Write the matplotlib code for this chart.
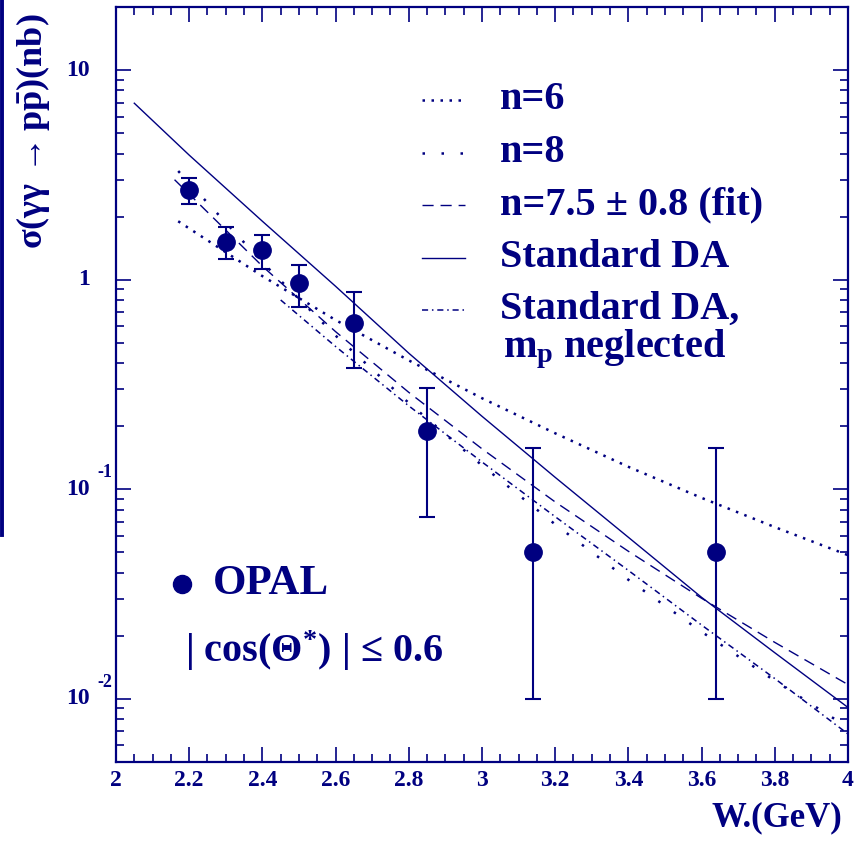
import matplotlib.pyplot as plt
from matplotlib.lines import Line2D
from matplotlib.ticker import MultipleLocator, LogLocator, FixedLocator, NullFormatter, FuncFormatter
from matplotlib.transforms import blended_transform_factory, offset_copy

navy = '#000080'

# OPAL measurement, |cos(theta*)| < 0.6
W_data = [2.2, 2.3, 2.4, 2.5, 2.65, 2.85, 3.14, 3.64]
sig_data = [2.67, 1.51, 1.38, 0.96, 0.62, 0.189, 0.050, 0.050]
sig_up = [3.06, 1.78, 1.63, 1.17, 0.87, 0.303, 0.158, 0.158]
sig_lo = [2.29, 1.25, 1.13, 0.74, 0.38, 0.074, 0.010, 0.010]

# model curves
W_n6 = [2.17, 2.4, 2.6, 2.8, 3.0, 3.2, 3.4, 3.6, 3.8, 4.0]
sig_n6 = [1.90, 1.04, 0.642, 0.412, 0.272, 0.185, 0.128, 0.091, 0.066, 0.0485]

W_n8 = [2.17, 2.4, 2.6, 2.8, 3.0, 3.2, 3.4, 3.6, 3.8, 4.0]
sig_n8 = [3.30, 1.21, 0.541, 0.258, 0.130, 0.068, 0.037, 0.0209, 0.0122, 0.0073]

W_fit = [2.16, 2.4, 2.6, 2.8, 3.0, 3.2, 3.4, 3.6, 3.8, 4.0]
sig_fit = [3.00, 1.16, 0.565, 0.290, 0.156, 0.087, 0.0506, 0.0302, 0.0186, 0.0117]

W_da = [2.05, 2.2, 2.4, 2.6, 2.8, 3.0, 3.2, 3.4, 3.6, 3.8, 4.0]
sig_da = [6.95, 3.93, 1.90, 0.93, 0.446, 0.223, 0.114, 0.059, 0.0305, 0.0166, 0.0091]

W_da0 = [2.45, 2.6, 2.8, 3.0, 3.2, 3.4, 3.6, 3.8, 4.0]
sig_da0 = [0.80, 0.48, 0.25, 0.135, 0.074, 0.041, 0.0225, 0.0125, 0.0068]

y_ticks = [10, 1, 0.1, 0.01]
y_base = ['10', '1', '10', '10']
y_exp = ['', '', '-1', '-2']

plt.rcParams['font.family'] = ['Liberation Serif', 'DejaVu Serif']
plt.rcParams['font.weight'] = 'bold'
plt.rcParams['mathtext.fontset'] = 'custom'
plt.rcParams['mathtext.rm'] = 'Liberation Serif:bold'
plt.rcParams['mathtext.it'] = 'Liberation Serif:bold'
plt.rcParams['mathtext.bf'] = 'Liberation Serif:bold'

fig = plt.figure(figsize=(8.63, 8.44), dpi=100)
ax = fig.add_axes([0.1344, 0.0972, 0.8482, 0.8945])
ax.set_yscale('log')
ax.set_xlim(2, 4)
ax.set_ylim(0.005, 20)

# curves
dot6 = (0, (1, 2.6))
dot8 = (0, (1, 6.6))
dash = (0, (8, 5))
dashdot = (0, (4, 2.5, 1, 2.5))
ax.plot(W_n6, sig_n6, color=navy, lw=1.8, ls=dot6)
ax.plot(W_n8, sig_n8, color=navy, lw=1.8, ls=dot8)
ax.plot(W_fit, sig_fit, color=navy, lw=1.0, ls=dash)
ax.plot(W_da, sig_da, color=navy, lw=1.0, ls='-')
ax.plot(W_da0, sig_da0, color=navy, lw=1.1, ls=dashdot)

# data points
err = [[s - l for s, l in zip(sig_data, sig_lo)], [u - s for s, u in zip(sig_data, sig_up)]]
ax.errorbar(W_data, sig_data, yerr=err, fmt='o', color=navy, ms=12.5,
            elinewidth=1.5, capsize=5.8, capthick=1.5, zorder=5)

# axes frame and ticks
for sp in ax.spines.values():
    sp.set_color(navy)
    sp.set_linewidth(1.6)
ax.xaxis.set_major_locator(MultipleLocator(0.2))
ax.xaxis.set_minor_locator(MultipleLocator(0.05))
ax.xaxis.set_major_formatter(FuncFormatter(lambda v, p: '%g' % round(v, 2)))
ax.yaxis.set_major_locator(FixedLocator(y_ticks))
ax.yaxis.set_minor_locator(LogLocator(base=10, subs=range(2, 10)))
ax.yaxis.set_major_formatter(NullFormatter())
ax.yaxis.set_minor_formatter(NullFormatter())
ax.tick_params(which='both', direction='in', top=True, right=True, color=navy, width=1.2)
ax.tick_params(which='major', length=10.5)
ax.tick_params(which='minor', length=5.5)
ax.tick_params(axis='x', labelsize=17, labelcolor=navy, pad=6)

tr = blended_transform_factory(ax.transAxes, ax.transData)
for yv, b, e in zip(y_ticks, y_base, y_exp):
    ax.text(-0.036, yv, b, transform=tr, ha='right', va='center', fontsize=17, color=navy)
    if e:
        ax.text(-0.026, yv, e, transform=offset_copy(tr, fig=fig, y=12, units='points'),
                ha='left', va='center', fontsize=13, color=navy)

# axis titles
ax.text(-0.113, 0.835, r'$\sigma(\gamma\gamma\,\rightarrow p\bar{p})$(nb)', transform=ax.transAxes,
        rotation=90, ha='center', va='center', fontsize=26, color=navy)
fig.text(842 / 863, 1 - 818 / 844, 'W.(GeV)', ha='right', va='center', fontsize=25, color=navy)

# legend
lx = [0.418, 0.477]
rows = [0.877, 0.807, 0.738, 0.668, 0.599]
styles = [(dot6, 1.8), (dot8, 1.8), (dash, 1.0), ('-', 1.0), (dashdot, 1.1)]
labels = ['n=6', 'n=8', 'n=7.5 ± 0.8 (fit)', 'Standard DA', 'Standard DA,']
for yy, (ls, lw), lab in zip(rows, styles, labels):
    ax.plot(lx, [yy, yy], transform=ax.transAxes, color=navy, ls=ls, lw=lw)
    ax.text(0.5246, yy, lab, transform=ax.transAxes, ha='left', va='center', fontsize=29, color=navy)
ax.text(0.529, 0.546, r'm$_{p}$ neglected', transform=ax.transAxes, ha='left', va='center',
        fontsize=29, color=navy)

ax.plot([0.0902], [0.236], 'o', ms=13, color=navy, transform=ax.transAxes)
ax.text(0.1325, 0.236, 'OPAL', transform=ax.transAxes, ha='left', va='center', fontsize=31, color=navy)
ax.text(0.094, 0.147, r'| cos($\Theta^{*}$) | ≤ 0.6', transform=ax.transAxes, ha='left', va='center',
        fontsize=29, color=navy)

# frame edge on the left of the page
fig.add_artist(Line2D([2 / 863, 2 / 863], [1, 1 - 535 / 844], transform=fig.transFigure,
                      color=navy, lw=2.8))

fig.savefig('out.png', dpi=100)
